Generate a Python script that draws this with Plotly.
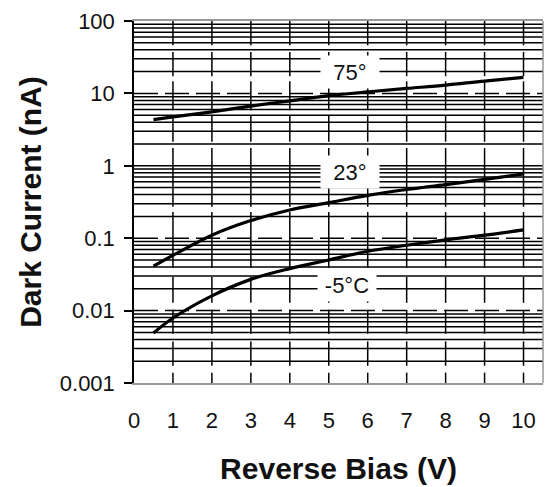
import plotly.graph_objects as go
import math

# ---- data ----
bias_v = [0.5, 1, 2, 3, 4, 5, 6, 7, 8, 9, 10]
current_75 = [4.35, 4.74, 5.56, 6.67, 7.9, 9.3, 10.5, 11.7, 13.0, 14.8, 16.6]
current_23 = [0.041, 0.058, 0.11, 0.175, 0.245, 0.31, 0.39, 0.47, 0.55, 0.65, 0.77]
current_m5 = [0.0049, 0.0079, 0.016, 0.027, 0.038, 0.05, 0.066, 0.08, 0.095, 0.11, 0.13]
curve_labels = ["75°", "23°", "-5°C"]
label_bias = [5.55, 5.55, 5.46]
label_current = [19.8, 0.83, 0.0227]

x_tickvals = list(range(0, 11))
y_tickvals = [0.001, 0.01, 0.1, 1, 10, 100]
y_ticktext = ["0.001", "0.01", "0.1", "1", "10", "100"]

# ---- grid styling ----
X_MAX = 10.5
FONT = "Liberation Sans, Arial, sans-serif"
GRID_W = 1.5
decades = [-3, -2, -1, 0, 1]
minor_levels = [k * 10 ** d for d in decades for k in range(2, 10)]
dashed_levels = [0.01, 0.1, 10]
solid_levels = [1]
# vertical grid lines are broken into segments (as in the scanned datasheet)
v_breaks = [100, 46.2, 37.4, 17.3, 14.7, 5.87, 5.01, 2.15, 1.76, 0.272, 0.230,
            0.0389, 0.0292, 0.0128, 0.01025, 0.00479, 0.00375, 0.00173, 0.00139, 0.001]

fig = go.Figure()


def hlines(levels):
    xs, ys = [], []
    for v in levels:
        xs += [0, X_MAX, None]
        ys += [v, v, None]
    return xs, ys


xs, ys = hlines(minor_levels + solid_levels)
fig.add_trace(go.Scatter(x=xs, y=ys, mode="lines", line=dict(color="black", width=GRID_W),
                         hoverinfo="skip", showlegend=False))
xs, ys = hlines(dashed_levels)
fig.add_trace(go.Scatter(x=xs, y=ys, mode="lines",
                         line=dict(color="black", width=GRID_W, dash="24px,7px"),
                         hoverinfo="skip", showlegend=False))

vx, vy = [], []
for xv in x_tickvals[1:]:
    for i in range(0, len(v_breaks), 2):
        vx += [xv, xv, None]
        vy += [v_breaks[i], v_breaks[i + 1], None]
fig.add_trace(go.Scatter(x=vx, y=vy, mode="lines", line=dict(color="black", width=GRID_W),
                         hoverinfo="skip", showlegend=False))

for name, vals in zip(curve_labels, [current_75, current_23, current_m5]):
    fig.add_trace(go.Scatter(x=bias_v, y=vals, mode="lines", name=name,
                             line=dict(color="black", width=3.2, shape="spline"),
                             showlegend=False))

for txt, xv, yv in zip(curve_labels, label_bias, label_current):
    fig.add_annotation(x=xv, y=math.log10(yv), xref="x", yref="y", text=txt,
                       showarrow=False, bgcolor="white", width=56, height=30,
                       font=dict(family=FONT, size=22, color="#111"))

fig.add_shape(type="line", xref="paper", yref="paper", x0=1, x1=1, y0=0, y1=1,
              line=dict(color="#999", width=1.5))

fig.update_layout(
    width=545, height=487,
    margin=dict(l=134, r=2, t=21, b=104),
    paper_bgcolor="white", plot_bgcolor="white",
    font=dict(family=FONT, size=22, color="#111"),
    xaxis=dict(range=[0, X_MAX], tickvals=x_tickvals, ticks="", showgrid=False,
               zeroline=False, showline=True, linecolor="#999", linewidth=1.5, mirror=True,
               ticklabelstandoff=17, automargin=False,
               title=dict(text="Reverse Bias (V)", standoff=26,
                          font=dict(family=FONT, size=30, weight="bold", color="#111"))),
    yaxis=dict(type="log", range=[-3, 2], tickvals=y_tickvals, ticktext=y_ticktext,
               ticks="outside", ticklen=8, tickwidth=1.5, tickcolor="black",
               showgrid=False, zeroline=False, showline=True, linecolor="black",
               linewidth=1.5, ticklabelstandoff=5, automargin=False,
               title=dict(text="Dark Current (nA)", standoff=9,
                          font=dict(family=FONT, size=30, weight="bold", color="#111"))),
)

fig.write_html("out.html", config={"displayModeBar": False},
               post_script="document.body.style.margin='0px';")
